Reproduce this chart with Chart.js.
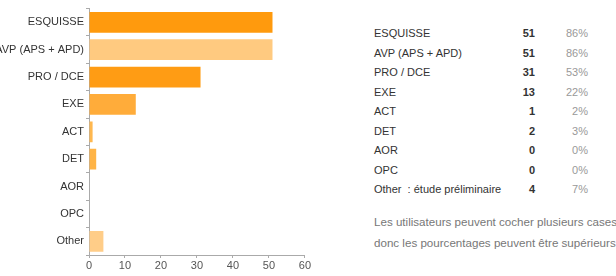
<!DOCTYPE HTML>
<html>
<head>
  <title>Phases</title>
  <script src="https://cdn.jsdelivr.net/npm/chart.js"></script>
  <style>
    body { margin: 0; background: #fff; width: 616px; height: 276px; overflow: hidden; position: relative; font-family: "Liberation Sans", Arial, sans-serif; }
    #chartBox { position: absolute; left: 0; top: 0; width: 312px; height: 276px; }
    #summary { position: absolute; left: 374px; top: 24px; font-size: 11px; color: #333; }
    #summary .row { height: 19.5px; line-height: 19.5px; white-space: nowrap; }
    #summary .lbl { display: inline-block; width: 143px; white-space: pre; }
    #summary .cnt { display: inline-block; width: 18px; text-align: right; font-weight: bold; }
    #summary .pct { display: inline-block; width: 53px; text-align: right; color: #999; }
    #note { position: absolute; left: 374px; top: 211px; font-size: 11.6px; line-height: 21px; color: #777; white-space: nowrap; }
  </style>
</head>
<body>
  <div id="chartBox"><canvas id="myChart"></canvas></div>
  <div id="summary"></div>
  <div id="note">Les utilisateurs peuvent cocher plusieurs cases<br>donc les pourcentages peuvent être supérieurs à 100 %.</div>

  <script type="text/javascript">
    // categories (chart labels and table labels)
    var xvar = ["ESQUISSE", "AVP (APS + APD)", "PRO / DCE", "EXE", "ACT", "DET", "AOR", "OPC", "Other"];
    var tableLabels = ["ESQUISSE", "AVP (APS + APD)", "PRO / DCE", "EXE", "ACT", "DET", "AOR", "OPC", "Other  : étude préliminaire"];
    var yvar = [51, 51, 31, 13, 1, 2, 0, 0, 4];
    var percents = ["86%", "86%", "53%", "22%", "2%", "3%", "0%", "0%", "7%"];
    var xTicks = [0, 10, 20, 30, 40, 50, 60];
    var barColors = ["#ff9a0d", "#ffca80", "#ff9c14", "#ffac3a", "#ffb84f", "#ffb446", "#ffc870", "#ffc870", "#ffcd88"];

    // right-hand summary table
    var box = document.getElementById('summary');
    for (var i = 0; i < tableLabels.length; i++) {
      var row = document.createElement('div');
      row.className = 'row';
      row.innerHTML = '<span class="lbl">' + tableLabels[i] + '</span><span class="cnt">' + yvar[i] +
        '</span><span class="pct">' + percents[i] + '</span>';
      box.appendChild(row);
    }

    const ctx = document.getElementById('myChart');
    var myChart = new Chart(ctx, {
      type: "bar",
      data: {
        labels: xvar,
        datasets: [{
          label: "réponses",
          data: yvar,
          backgroundColor: barColors,
          borderWidth: 0,
          categoryPercentage: 1.0,
          barPercentage: 0.76
        }]
      },
      options: {
        indexAxis: 'y',
        responsive: true,
        maintainAspectRatio: false,
        animation: false,
        layout: { padding: { top: 3, right: 0, left: 0, bottom: 0 } },
        plugins: {
          legend: { display: false },
          tooltip: { enabled: false }
        },
        scales: {
          x: {
            min: 0,
            max: 60,
            afterBuildTicks: function (axis) { axis.ticks = xTicks.map(function (v) { return { value: v }; }); },
            afterFit: function (axis) { axis.height = 21; },
            grid: { display: true, drawOnChartArea: false, drawTicks: true, tickLength: 3, color: '#aaa' },
            border: { display: true, color: '#aaa' },
            ticks: { color: '#555', padding: 1, font: { family: 'Liberation Sans', size: 11 }, maxRotation: 0 }
          },
          y: {
            afterFit: function (axis) { axis.width = 89; },
            grid: { display: true, drawOnChartArea: false, drawTicks: true, tickLength: 3, color: '#aaa' },
            border: { display: true, color: '#aaa' },
            ticks: { color: '#333', padding: 2, font: { family: 'Liberation Sans', size: 11 } }
          }
        }
      }
    });
  </script>
</body>
</html>
